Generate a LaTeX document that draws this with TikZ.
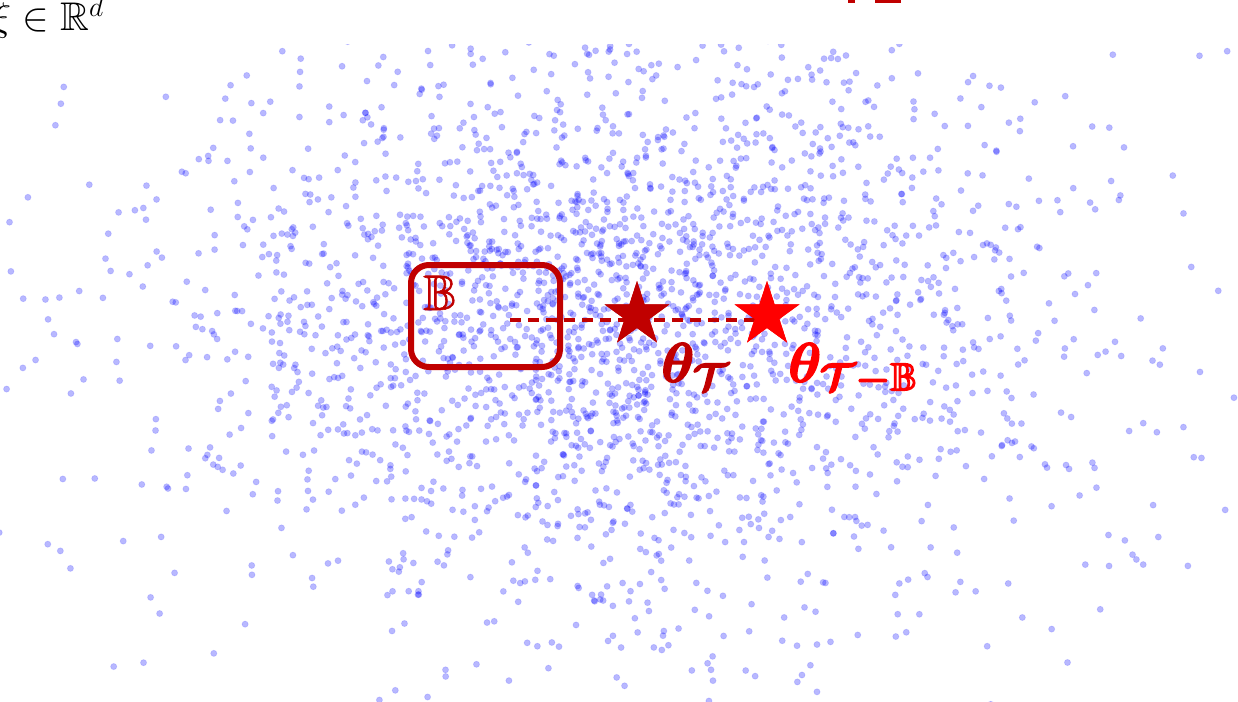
\RequirePackage{fix-cm}
\documentclass[tikz,border=0pt]{standalone}
\usepackage{amsmath,amssymb,bm,graphicx}
\usetikzlibrary{shapes.geometric}
\definecolor{darkred}{RGB}{192,0,0}
\definecolor{brightred}{RGB}{255,0,0}
\newcommand{\heavytext}[1]{\special{pdf:literal direct 2 Tr 0.5 w}#1\special{pdf:literal direct 0 Tr}}
\newcommand{\semiheavy}[1]{\special{pdf:literal direct 2 Tr 0.6 w}#1\special{pdf:literal direct 0 Tr}}
\begin{document}
\begin{tikzpicture}[x=1pt,y=-1pt,
  dot/.style={fill=blue,fill opacity=0.28,draw=blue,draw opacity=0.12,line width=0.8pt},
  starnode/.style={star,star points=5,star point ratio=2.618,minimum size=68pt,inner sep=0pt,fill=#1,draw=none},
  boxnode/.style={draw=darkred,line width=6pt,rounded corners=18pt,minimum width=149pt,minimum height=102pt,inner sep=0pt},
  lab/.style={inner sep=0pt,anchor=base west}]
\useasboundingbox (0,0) rectangle (1238,701);
% scatter
\begin{scope}
\clip (0,45) rectangle (1238,701);
\pgfmathsetseed{4711}
\foreach \i in {1,...,2700}{
  \pgfmathsetmacro\ua{0.0001+0.9999*rnd}
  \pgfmathsetmacro\ub{rnd}
  \pgfmathsetmacro\rr{sqrt(-2*ln(\ua))}
  \pgfmathsetmacro\px{620+235*\rr*cos(360*\ub)}
  \pgfmathsetmacro\py{320+150*\rr*sin(360*\ub)}
  \filldraw[dot] (\px,\py) circle (3.1);
}
\end{scope}
% top texts
\node[inner sep=0pt,anchor=base east] (space) at (104,31) {\fontsize{40}{44}\selectfont$\xi\in\mathbb{R}^d$};
\fill[darkred] (848,0) rectangle (855,3);
\fill[darkred] (875,0) rectangle (901,3);
% box
\node[boxnode] (box) at (485.5,316) {};
\node[lab] (blab) at (423,310) {\color{darkred}\fontsize{50}{54}\selectfont\semiheavy{$\mathbb{B}$}};
% line and stars
\coordinate (d0) at (510,320);
\node[starnode=darkred] (s1) at (637,315) {};
\node[starnode=brightred] (s2) at (767,315) {};
\draw[darkred,line width=4.5pt,dash pattern=on 11pt off 7pt] (d0) -- (s2.center |- d0);
\node[starnode=darkred] at (s1) {};
\node[starnode=brightred] at (s2) {};
% labels
\node[lab] (t1) at (661,382) {\color{darkred}\scalebox{2.8}{\fontsize{20}{24}\selectfont\heavytext{$\bm{\theta}_{\bm{\mathcal{T}}}$}}};
\node[lab] (t2) at (788,382) {\color{brightred}\scalebox{2.8}{\fontsize{20}{24}\selectfont\heavytext{$\bm{\theta}_{\bm{\mathcal{T}}\bm{-}\mathbb{B}}$}}};
\end{tikzpicture}
\end{document}
